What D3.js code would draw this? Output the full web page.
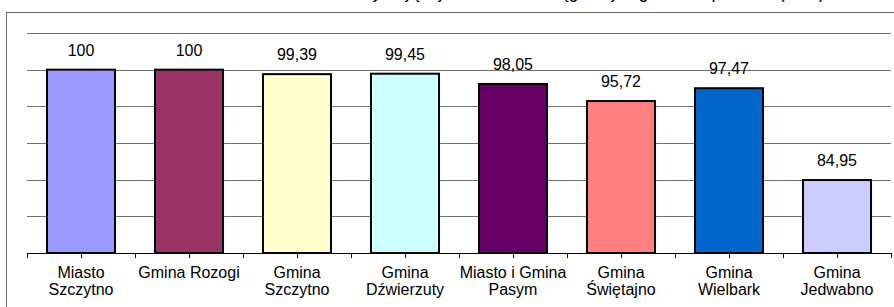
<!DOCTYPE html>
<html>
<head>
<meta charset="utf-8">
<style>
  body { margin: 0; background: #fff; }
  svg { display: block; font-family: "Liberation Sans", Arial, sans-serif; }
</style>
<script src="https://cdn.jsdelivr.net/npm/d3@7"></script>
</head>
<body>
<div id="chart"></div>
<script>
// data
var gminy = ["Miasto Szczytno", "Gmina Rozogi", "Gmina Szczytno", "Gmina Dźwierzuty",
  "Miasto i Gmina Pasym", "Gmina Świętajno", "Gmina Wielbark", "Gmina Jedwabno"];
var etykiety = [["Miasto", "Szczytno"], ["Gmina Rozogi"], ["Gmina", "Szczytno"], ["Gmina", "Dźwierzuty"],
  ["Miasto i Gmina", "Pasym"], ["Gmina", "Świętajno"], ["Gmina", "Wielbark"], ["Gmina", "Jedwabno"]];
var wartosci = [100, 100, 99.39, 99.45, 98.05, 95.72, 97.47, 84.95];
var kolory = ["#9999ff", "#993366", "#ffffcc", "#ccffff", "#660066", "#ff8080", "#0066cc", "#ccccff"];
var siatka = [75, 80, 85, 90, 95, 100, 105];
var tytul = "Odsetek ludności korzystającej z sieci wodociągowej w gminach powiatu (w %)";

var W = 894, H = 307;
var svg = d3.select("#chart").append("svg").attr("width", W).attr("height", H);

// title, cut off at the top like in the source image (only descenders show)
svg.append("text").attr("x", 510).attr("y", -2.5).attr("text-anchor", "middle")
  .style("font-size", "18px").attr("fill", "#000").text(tytul);

// outer frame (only left and top edges are inside the picture)
svg.append("rect").attr("x", 6.5).attr("y", 12.5).attr("width", 1000).attr("height", 400)
  .attr("fill", "none").attr("stroke", "#6e6e6e");

var pl = 27, pr = 891, pt = 33, pb = 253;
var x = d3.scaleBand().domain(gminy).range([pl, pr]).paddingInner(0.37).paddingOuter(0.185);
var y = d3.scaleLinear().domain([75, 105]).range([pb, pt]);

// horizontal gridlines
svg.append("g").selectAll("line").data(siatka.slice(1)).enter().append("line")
  .attr("x1", pl).attr("x2", pr)
  .attr("y1", function(d){ return Math.round(y(d)) + 0.5; })
  .attr("y2", function(d){ return Math.round(y(d)) + 0.5; })
  .attr("stroke", "#707070").attr("stroke-width", 1);

// bars
svg.append("g").selectAll("rect").data(wartosci).enter().append("rect")
  .attr("x", function(d, i){ return x(gminy[i]); })
  .attr("y", function(d){ return y(d); })
  .attr("width", x.bandwidth())
  .attr("height", function(d){ return y(75) - y(d); })
  .attr("fill", function(d, i){ return kolory[i]; })
  .attr("stroke", "#000").attr("stroke-width", 2);

// value labels
svg.append("g").selectAll("text").data(wartosci).enter().append("text")
  .attr("x", function(d, i){ return x(gminy[i]) + x.bandwidth() / 2; })
  .attr("y", function(d){ return y(d) - 14; })
  .attr("text-anchor", "middle").style("font-size", "16px").attr("fill", "#000")
  .text(function(d){ return String(d).replace(".", ","); });

// x axis line and tick marks (at band edges and centres)
var krok = x.step();
var ticki = [];
gminy.forEach(function(g){
  var lewy = x(g) - (krok - x.bandwidth()) / 2;
  ticki.push(lewy, lewy + krok / 2);
});
ticki.push(pr);
svg.append("line").attr("x1", pl).attr("x2", pr).attr("y1", pb + 0.5).attr("y2", pb + 0.5)
  .attr("stroke", "#000");
svg.append("g").selectAll("line").data(ticki).enter().append("line")
  .attr("x1", function(d){ return Math.round(d) + 0.5; })
  .attr("x2", function(d){ return Math.round(d) + 0.5; })
  .attr("y1", pb).attr("y2", pb + 5).attr("stroke", "#000");

// category labels
var kat = svg.append("g").selectAll("text").data(etykiety).enter().append("text")
  .attr("x", function(d, i){ return x(gminy[i]) + x.bandwidth() / 2; })
  .attr("y", 278).attr("text-anchor", "middle").style("font-size", "16px").attr("fill", "#000");
kat.selectAll("tspan").data(function(d){ return d; }).enter().append("tspan")
  .attr("x", function(){ return d3.select(this.parentNode).attr("x"); })
  .attr("dy", function(d, i){ return i === 0 ? 0 : 17; })
  .text(function(d){ return d; });
</script>
</body>
</html>
